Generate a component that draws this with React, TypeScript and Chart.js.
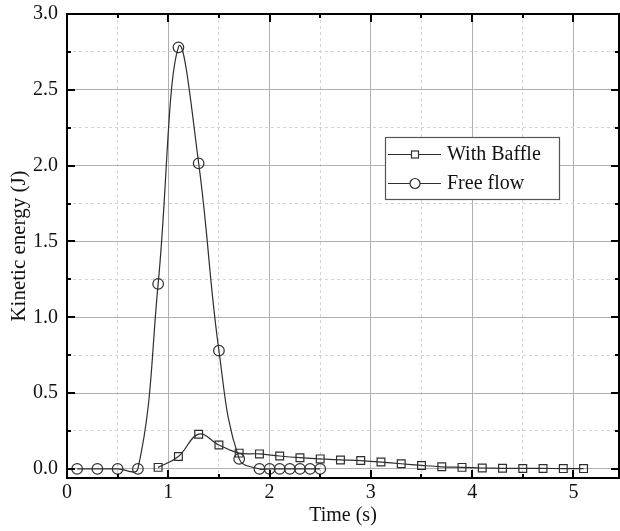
import React, { useEffect, useRef } from 'react';
import { Chart, registerables } from 'chart.js';

Chart.register(...registerables);

// ---- Data ----
const FREE_FLOW_TIME = [0.1, 0.3, 0.5, 0.7, 0.9, 1.1, 1.3, 1.5, 1.7, 1.9, 2.0, 2.1, 2.2, 2.3, 2.4, 2.5];
const FREE_FLOW_KE = [0, 0, 0, 0, 1.22, 2.78, 2.015, 0.78, 0.066, 0, 0, 0, 0, 0, 0, 0];

const BAFFLE_TIME = [0.9, 1.1, 1.3, 1.5, 1.7, 1.9, 2.1, 2.3, 2.5, 2.7, 2.9, 3.1, 3.3, 3.5, 3.7, 3.9, 4.1, 4.3, 4.5, 4.7, 4.9, 5.1];
const BAFFLE_KE = [0.01, 0.082, 0.229, 0.158, 0.104, 0.099, 0.085, 0.074, 0.066, 0.059, 0.055, 0.045, 0.034, 0.023, 0.014, 0.01, 0.006, 0.004, 0.003, 0.003, 0.002, 0.002];

const SERIES_LABELS = ['With Baffle', 'Free flow'];

const X_TICKS = [0, 0.5, 1, 1.5, 2, 2.5, 3, 3.5, 4, 4.5, 5];
const X_MAJOR = [0, 1, 2, 3, 4, 5];
const Y_TICKS = [0, 0.25, 0.5, 0.75, 1, 1.25, 1.5, 1.75, 2, 2.25, 2.5, 2.75, 3];
const Y_MAJOR = [0, 0.5, 1, 1.5, 2, 2.5, 3];

const X_TITLE = 'Time (s)';
const Y_TITLE = 'Kinetic energy (J)';

const FONT = '"Liberation Serif", "DejaVu Serif", serif';
const LINE_COLOR = '#2e2e2e';

const isMajorX = (v: number) => X_MAJOR.some((m) => Math.abs(m - v) < 1e-9);
const isMajorY = (v: number) => Y_MAJOR.some((m) => Math.abs(m - v) < 1e-9);

const framePlugin = {
  id: 'frameAndLegend',
  afterDraw(chart: any) {
    const { ctx, chartArea: a, scales } = chart;
    const xs = scales.x;
    const ys = scales.y;
    ctx.save();
    // tick marks (inward, all four sides)
    ctx.strokeStyle = '#000';
    ctx.lineWidth = 2;
    ctx.beginPath();
    for (const v of X_TICKS) {
      const px = Math.round(xs.getPixelForValue(v));
      const len = isMajorX(v) ? 8 : 4;
      ctx.moveTo(px, a.bottom);
      ctx.lineTo(px, a.bottom - len);
      ctx.moveTo(px, a.top);
      ctx.lineTo(px, a.top + len);
    }
    for (const v of Y_TICKS) {
      const py = Math.round(ys.getPixelForValue(v));
      const len = isMajorY(v) ? 8 : 4;
      ctx.moveTo(a.left, py);
      ctx.lineTo(a.left + len, py);
      ctx.moveTo(a.right, py);
      ctx.lineTo(a.right - len, py);
    }
    ctx.stroke();
    // frame
    ctx.lineWidth = 2;
    ctx.strokeRect(a.left, a.top, a.right - a.left, a.bottom - a.top);

    // legend
    const bx = 385, by = 137, bw = 174, bh = 62;
    ctx.fillStyle = '#fff';
    ctx.fillRect(bx, by, bw, bh);
    ctx.strokeStyle = '#555';
    ctx.lineWidth = 1.2;
    ctx.strokeRect(bx + 0.5, by + 0.5, bw, bh);
    const rows = [154, 183];
    ctx.font = `20px ${FONT}`;
    ctx.textBaseline = 'middle';
    ctx.textAlign = 'left';
    rows.forEach((ry, i) => {
      ctx.strokeStyle = LINE_COLOR;
      ctx.lineWidth = 1.2;
      ctx.beginPath();
      ctx.moveTo(388, ry + 0.5);
      ctx.lineTo(441, ry + 0.5);
      ctx.stroke();
      ctx.beginPath();
      ctx.fillStyle = '#fff';
      if (i === 0) {
        ctx.fillRect(411.5, ry - 3, 7, 7);
        ctx.strokeRect(411.5, ry - 3, 7, 7);
      } else {
        ctx.arc(415, ry + 0.5, 5, 0, Math.PI * 2);
        ctx.fill();
        ctx.stroke();
      }
      ctx.fillStyle = '#111';
      ctx.fillText(SERIES_LABELS[i], 447, ry + 1);
    });
    ctx.restore();
  },
};

export default function App() {
  const canvasRef = useRef<HTMLCanvasElement | null>(null);

  useEffect(() => {
    document.body.style.margin = '0';
    const canvas = canvasRef.current;
    if (!canvas) return;
    const chart = new Chart(canvas, {
      type: 'line',
      data: {
        datasets: [
          {
            label: SERIES_LABELS[0],
            data: BAFFLE_TIME.map((t, i) => ({ x: t, y: BAFFLE_KE[i] })),
            borderColor: LINE_COLOR,
            borderWidth: 1.2,
            backgroundColor: 'transparent',
            pointStyle: 'rect',
            pointRadius: 5.5,
            pointBorderWidth: 1.2,
            pointBorderColor: LINE_COLOR,
            pointBackgroundColor: 'transparent',
            tension: 0.4,
            fill: false,
          },
          {
            label: SERIES_LABELS[1],
            data: FREE_FLOW_TIME.map((t, i) => ({ x: t, y: FREE_FLOW_KE[i] })),
            borderColor: LINE_COLOR,
            borderWidth: 1.2,
            backgroundColor: 'transparent',
            pointStyle: 'circle',
            pointRadius: 5.3,
            pointBorderWidth: 1.2,
            pointBorderColor: LINE_COLOR,
            pointBackgroundColor: 'transparent',
            tension: 0.4,
            fill: false,
          },
        ],
      },
      options: {
        responsive: false,
        animation: false,
        devicePixelRatio: 1,
        layout: { autoPadding: false, padding: { top: 14, right: 1, left: 0, bottom: 0 } },
        plugins: {
          legend: { display: false },
          tooltip: { enabled: false },
        },
        scales: {
          x: {
            type: 'linear',
            min: 0,
            max: 5.45,
            afterFit: (s: any) => {
              s.height = 53;
              s.paddingLeft = 0;
              s.paddingRight = 0;
            },
            afterBuildTicks: (s: any) => {
              s.ticks = X_TICKS.map((v) => ({ value: v }));
            },
            ticks: {
              autoSkip: false,
              maxRotation: 0,
              padding: 3,
              color: '#111',
              font: { family: FONT, size: 20 },
              callback: (v: any) => (isMajorX(Number(v)) ? String(Math.round(Number(v))) : ''),
            },
            grid: {
              drawTicks: false,
              color: (c: any) => (c.tick && isMajorX(c.tick.value) ? '#b0b0b0' : '#d4d4d4'),
              lineWidth: 1,
            },
            border: {
              display: false,
              dash: (c: any) => (c.tick && isMajorX(c.tick.value) ? [] : [3, 3]),
            },
            title: {
              display: true,
              text: X_TITLE,
              color: '#111',
              font: { family: FONT, size: 20 },
              padding: { top: 0, bottom: 3 },
            },
          },
          y: {
            type: 'linear',
            min: -0.06,
            max: 3.0,
            afterFit: (s: any) => {
              s.width = 67;
              s.paddingTop = 0;
              s.paddingBottom = 0;
            },
            afterBuildTicks: (s: any) => {
              s.ticks = Y_TICKS.map((v) => ({ value: v }));
            },
            ticks: {
              autoSkip: false,
              padding: 9,
              color: '#111',
              font: { family: FONT, size: 20 },
              callback: (v: any) => (isMajorY(Number(v)) ? Number(v).toFixed(1) : ''),
            },
            grid: {
              drawTicks: false,
              color: (c: any) => (c.tick && isMajorY(c.tick.value) ? '#b0b0b0' : '#d4d4d4'),
              lineWidth: 1,
            },
            border: {
              display: false,
              dash: (c: any) => (c.tick && isMajorY(c.tick.value) ? [] : [3, 3]),
            },
            title: {
              display: true,
              text: Y_TITLE,
              color: '#111',
              font: { family: FONT, size: 21 },
              padding: { top: 7, bottom: 0 },
            },
          },
        },
      },
      plugins: [framePlugin],
    } as any);
    return () => chart.destroy();
  }, []);

  return (
    <div style={{ width: 620, height: 531, position: 'relative', background: '#fff' }}>
      <canvas ref={canvasRef} width={620} height={531} style={{ display: 'block' }} />
    </div>
  );
}
